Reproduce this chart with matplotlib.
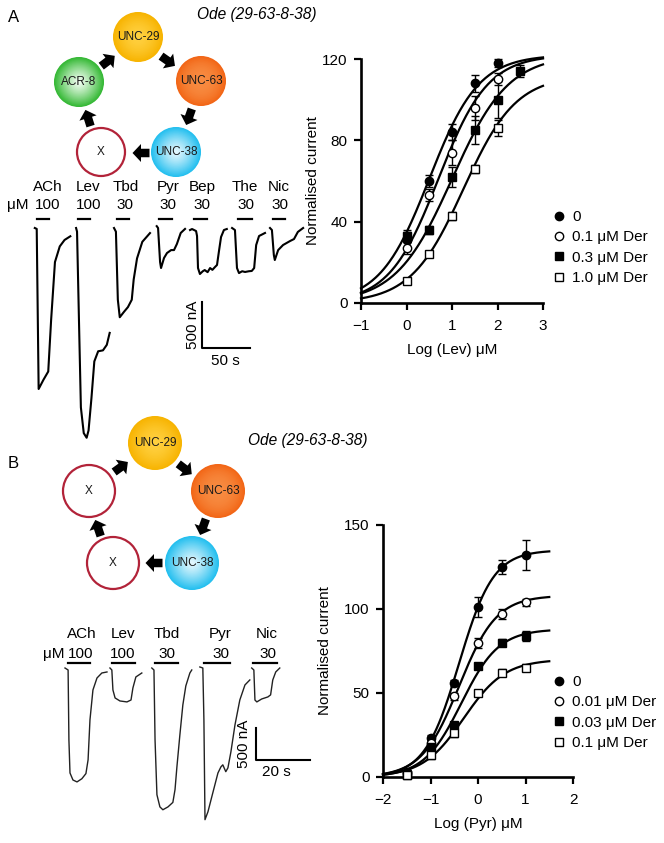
import numpy as np
import matplotlib
matplotlib.use('Agg')
import matplotlib.pyplot as plt
from matplotlib.patches import Circle, FancyArrow

plt.rcParams['font.family'] = ['Liberation Sans', 'DejaVu Sans']

W, H = 664, 843

# ---- panel A dose-response (levamisole) ----
lev_labels = ['0', '0.1 \u03bcM Der', '0.3 \u03bcM Der', '1.0 \u03bcM Der']
lev_x = [[0, 0.5, 1, 1.5, 2],
         [0, 0.5, 1, 1.5, 2],
         [0, 0.5, 1, 1.5, 2, 2.5],
         [0, 0.5, 1, 1.5, 2]]
lev_y = [[31, 60, 84, 108, 118],
         [27, 53, 74, 96, 110],
         [33, 36, 62, 85, 100, 114],
         [11, 24, 43, 66, 86]]
lev_err = [[4, 3, 4, 4, 2],
           [3, 3, 6, 6, 3],
           [3, 2, 5, 7, 9, 3],
           [1, 1, 2, 2, 4]]
# Hill fit parameters: top, logEC50, slope
lev_fit = [(122, 0.5, 0.8), (122, 0.7, 0.8), (122, 1.0, 0.7), (112, 1.25, 0.75)]

# ---- panel B dose-response (pyrantel) ----
pyr_labels = ['0', '0.01 \u03bcM Der', '0.03 \u03bcM Der', '0.1 \u03bcM Der']
pyr_x = [-1.5, -1, -0.5, 0, 0.5, 1]
pyr_y = [[3, 23, 56, 101, 125, 132],
         [2, 20, 48, 80, 97, 104],
         [1, 18, 31, 66, 80, 84],
         [1, 13, 26, 50, 62, 65]]
pyr_err = [[1, 2, 2, 6, 4, 9],
           [1, 2, 2, 3, 3, 2],
           [1, 2, 2, 2, 2, 3],
           [1, 2, 2, 2, 2, 2]]
pyr_fit = [(135, -0.4, 1.2), (108, -0.4, 1.1), (88, -0.35, 1.1), (70, -0.3, 1.0)]

markers = [('o', 'black'), ('o', 'white'), ('s', 'black'), ('s', 'white')]

# ---- current traces (time s, current nA) ----
drugs_a = ['ACh', 'Lev', 'Tbd', 'Pyr', 'Bep', 'The', 'Nic']
conc_a = ['100', '100', '30', '30', '30', '30', '30']
bars_a = [(7.3, 19.8), (50, 62.5), (90.6, 103), (134, 148), (171, 184), (217, 231), (253, 266)]
traces_a = [
    ([5, 7, 9, 14, 19, 22, 26, 31, 36, 42],
     [0, -10, -1750, -1650, -1560, -1000, -370, -200, -130, -90]),
    ([48, 49, 51, 53, 56, 59, 61, 64, 67, 71, 76, 80, 83],
     [0, -40, -1000, -1950, -2230, -2280, -2200, -1850, -1450, -1340, -1330, -1270, -1140]),
    ([87.5, 89.5, 91.5, 93.5, 98, 102, 106, 108, 111.5, 117, 125],
     [0, -40, -780, -970, -910, -860, -780, -560, -330, -150, -55]),
    ([132, 133.4, 135.5, 136.5, 139.6, 142.7, 147, 150, 153, 157, 161.5],
     [20, 0, -370, -435, -326, -272, -240, -240, -174, -54, -10]),
    ([166.7, 168.8, 173, 174, 175, 177, 180, 182, 185, 187.6, 190, 192.7, 194.8, 197, 199, 202, 205],
     [-22, -11, -33, -87, -435, -500, -470, -457, -480, -435, -455, -424, -402, -240, -98, -22, -11]),
    ([210.5, 213.5, 215.6, 217.7, 221, 224, 228, 231, 233.5, 235.6, 238.6, 244.8],
     [0, -22, -435, -490, -470, -478, -470, -467, -435, -185, -87, -54]),
    ([250, 252, 254, 255, 258.5, 263.6, 271, 275, 279, 284.5],
     [0, -22, -293, -348, -240, -185, -141, -120, -43, 0]),
]

drugs_b = ['ACh', 'Lev', 'Tbd', 'Pyr', 'Nic']
conc_b = ['100', '100', '30', '30', '30']
bars_b = [(2.96, 11.1), (19.3, 27.8), (35.2, 43.7), (53.3, 63), (71.5, 80.4)]
traces_b = [
    ([1.85, 3, 3.3, 3.7, 4.8, 6.3, 8.1, 9.6, 10.4, 11.1, 12.2, 13.7, 15.5, 17.4],
     [0, -31, -1123, -1640, -1750, -1780, -1730, -1650, -1435, -810, -343, -156, -78, -62]),
    ([18.5, 19.2, 19.6, 20.4, 22.2, 24.8, 26.3, 27, 28.1, 30.3],
     [0, -31, -343, -468, -515, -530, -500, -312, -140, -78]),
    ([34, 34.8, 35.2, 35.9, 37, 38.1, 40, 41.8, 42.6, 43.3, 44.4, 45.5, 46.6, 48.1, 48.8],
     [0, -31, -1123, -1980, -2170, -2215, -2170, -2100, -1900, -1545, -1045, -577, -280, -78, -31]),
    ([51.8, 52.9, 53.3, 53.7, 54.8, 56.6, 58.5, 59.6, 60.3, 61.4, 62.2, 63.3, 64.8, 66.6, 68.5, 70.3],
     [16, 0, -810, -2370, -2246, -1950, -1640, -1545, -1513, -1620, -1560, -1310, -890, -500, -265, -187]),
    ([71, 71.8, 72.2, 72.9, 74.7, 77, 78, 78.8, 79.9, 81.4],
     [0, -31, -500, -530, -484, -452, -420, -187, -62, 0]),
]

FS = 11


def hill(x, top, ec50, n):
    return top / (1 + 10 ** ((ec50 - x) * n))


fig = plt.figure(figsize=(6.64, 8.43), dpi=100)


def px_axes(x0, y0, x1, y1):
    return fig.add_axes([x0 / W, 1 - y1 / H, (x1 - x0) / W, (y1 - y0) / H])


ov = px_axes(0, 0, W, H)
ov.set_xlim(0, W)
ov.set_ylim(H, 0)
ov.axis('off')


def ball(cx, cy, r, edge, center, label, p=1.6):
    edge = np.array(matplotlib.colors.to_rgb(edge))
    center = np.array(matplotlib.colors.to_rgb(center))
    for s in np.linspace(1, 0.02, 40):
        c = center + (edge - center) * s ** p
        ov.add_patch(Circle((cx, cy), r * s, color=c, lw=0))
    ov.text(cx, cy, label, ha='center', va='center', fontsize=8.5, color='#1a1a1a')


def empty(cx, cy, r):
    ov.add_patch(Circle((cx, cy), r - 1, facecolor='white', edgecolor='#b22339', lw=1.6))
    ov.text(cx, cy, 'X', ha='center', va='center', fontsize=8.5, color='#1a1a1a')


def arrow(cx, cy, frm, to, L=17):
    d = np.array(to, float) - np.array(frm, float)
    d /= np.hypot(*d)
    x0, y0 = cx - d[0] * L / 2, cy - d[1] * L / 2
    ov.add_patch(FancyArrow(x0, y0, d[0] * L, d[1] * L, width=8.5, head_width=18,
                            head_length=8.5, length_includes_head=True, color='black', lw=0))


# diagram A
r = 25
u29, u63, u38, xa, acr = (138, 37), (201, 81), (176, 152), (101, 152), (79, 82)
ball(*u29, r, '#f7b400', '#ffd040', 'UNC-29')
ball(*u63, r, '#f26515', '#f78a40', 'UNC-63', p=2.5)
ball(*u38, r, '#22bfef', '#e8f8fd', 'UNC-38', p=1.2)
ball(*acr, r, '#33b833', '#f4fff4', 'ACR-8', p=1.2)
empty(*xa, r)
arrow(108, 61, acr, u29)
arrow(168, 61, u29, u63)
arrow(189, 117, u63, u38)
arrow(141, 153, u38, xa)
arrow(88, 118, xa, acr)
ov.text(14, 17, 'A', fontsize=12, ha='center', va='center')
ov.text(197, 15, 'Ode (29-63-8-38)', fontsize=11.2, style='italic', va='center')

# diagram B
r = 27
u29, u63, u38, xb1, xb2 = (155, 443), (218, 491), (192, 563), (113, 563), (89, 491)
ball(*u29, r, '#f7b400', '#ffd040', 'UNC-29')
ball(*u63, r, '#f26515', '#f78a40', 'UNC-63', p=2.5)
ball(*u38, r, '#22bfef', '#e8f8fd', 'UNC-38', p=1.2)
empty(*xb1, r)
empty(*xb2, r)
arrow(121, 467, xb2, u29)
arrow(185, 469, u29, u63)
arrow(203, 527, u63, u38)
arrow(154, 563, u38, xb1)
arrow(98, 528, xb1, xb2)
ov.text(13, 463, 'B', fontsize=12, ha='center', va='center')
ov.text(248, 440, 'Ode (29-63-8-38)', fontsize=11.2, style='italic', va='center')

# trace labels
for name, conc, xn, xc in zip(drugs_a, conc_a, [48, 88, 126, 168, 202, 245, 279],
                              [48, 89, 125, 168, 202, 246, 280]):
    ov.text(xn, 187, name, fontsize=FS, ha='center', va='center')
    ov.text(xc, 205, conc, fontsize=FS, ha='center', va='center')
ov.text(18, 205, '\u03bcM', fontsize=FS, ha='center', va='center')
for name, conc, xn, xc in zip(drugs_b, conc_b, [82, 123, 167, 220, 267],
                              [81, 123, 167, 221, 268]):
    ov.text(xn, 634, name, fontsize=FS, ha='center', va='center')
    ov.text(xc, 654, conc, fontsize=FS, ha='center', va='center')
ov.text(54, 654, '\u03bcM', fontsize=FS, ha='center', va='center')

# trace axes A: 1 px = 50/48 s, 500/46 nA
sa_t, sa_i = 50 / 48, 500 / 46
ta = px_axes(0, 190, 330, 460)
ta.set_xlim(-30 * sa_t, 300 * sa_t)
ta.set_ylim(-(460 - 228) * sa_i, (228 - 190) * sa_i)
ta.axis('off')
for t, i in traces_a:
    ta.plot(t, i, color='black', lw=1.5, solid_joinstyle='round')
for t0, t1 in bars_a:
    ta.plot([t0, t1], [98, 98], color='black', lw=1.6)
ta.plot([179, 179, 229], [-804, -1304, -1304], color='black', lw=1.5)
ta.text(170, -1054, '500 nA', rotation=90, ha='center', va='center', fontsize=FS)
ta.text(204, -1445, '50 s', ha='center', va='center', fontsize=FS)

# trace axes B: 1 px = 20/54 s, 500/32 nA
sb_t, sb_i = 20 / 54, 500 / 32
tb = px_axes(0, 640, 330, 840)
tb.set_xlim(-60 * sb_t, 270 * sb_t)
tb.set_ylim(-(840 - 668) * sb_i, (668 - 640) * sb_i)
tb.axis('off')
for t, i in traces_b:
    tb.plot(t, i, color='#222222', lw=1.0)
for t0, t1 in bars_b:
    tb.plot([t0, t1], [78, 78], color='black', lw=1.6)
tb.plot([72.5, 72.5, 92.5], [-936, -1436, -1436], color='black', lw=1.5)
tb.text(68.0, -1186, '500 nA', rotation=90, ha='center', va='center', fontsize=FS)
tb.text(80, -1630, '20 s', ha='center', va='center', fontsize=FS)


def style(ax):
    for s in ['top', 'right']:
        ax.spines[s].set_visible(False)
    for s in ['left', 'bottom']:
        ax.spines[s].set_linewidth(1.9)
    ax.tick_params(direction='out', length=5, width=1.6, labelsize=FS)
    ax.tick_params(axis='x', pad=6.5)
    ax.tick_params(axis='y', pad=4.5)


legend_kw = dict(bbox_transform=fig.transFigure, frameon=False, fontsize=FS,
                 handlelength=0.8, handletextpad=0.45, labelspacing=0.42,
                 borderpad=0, borderaxespad=0, loc='upper left')

# dose-response A
ax = px_axes(361, 59, 543, 303)
xs = np.linspace(-1, 3, 200)
for k in range(4):
    ax.plot(xs, hill(xs, *lev_fit[k]), color='black', lw=1.6, clip_on=False)
    ax.errorbar(lev_x[k], lev_y[k], yerr=lev_err[k], fmt='none', ecolor='black',
                elinewidth=1, capsize=3, capthick=1, clip_on=False)
    m, fc = markers[k]
    ax.plot(lev_x[k], lev_y[k], m, ms=6, mfc=fc, mec='black', mew=1,
            label=lev_labels[k], clip_on=False, zorder=5)
ax.set_xlim(-1, 3)
ax.set_ylim(0, 120)
ax.set_xticks([-1, 0, 1, 2, 3])
ax.set_yticks([0, 40, 80, 120])
style(ax)
ax.set_ylabel('Normalised current', fontsize=FS, labelpad=1.5)
ax.set_xlabel('Log (Lev) \u03bcM', fontsize=FS, labelpad=7)
ax.legend(bbox_to_anchor=(553 / W, 1 - 210 / H), **legend_kw)

# dose-response B
bx = px_axes(383, 525, 573, 777)
xs = np.linspace(-2, 1.5, 200)
for k in range(4):
    bx.plot(xs, hill(xs, *pyr_fit[k]), color='black', lw=1.6, clip_on=False)
    bx.errorbar(pyr_x, pyr_y[k], yerr=pyr_err[k], fmt='none', ecolor='black',
                elinewidth=1, capsize=3, capthick=1, clip_on=False)
    m, fc = markers[k]
    bx.plot(pyr_x, pyr_y[k], m, ms=6, mfc=fc, mec='black', mew=1,
            label=pyr_labels[k], clip_on=False, zorder=5)
bx.set_xlim(-2, 2)
bx.set_ylim(0, 150)
bx.set_xticks([-2, -1, 0, 1, 2])
bx.set_yticks([0, 50, 100, 150])
style(bx)
bx.set_ylabel('Normalised current', fontsize=FS, labelpad=9)
bx.set_xlabel('Log (Pyr) \u03bcM', fontsize=FS, labelpad=7)
bx.legend(bbox_to_anchor=(553 / W, 1 - 675 / H), **legend_kw)

fig.savefig('out.png', dpi=100)
